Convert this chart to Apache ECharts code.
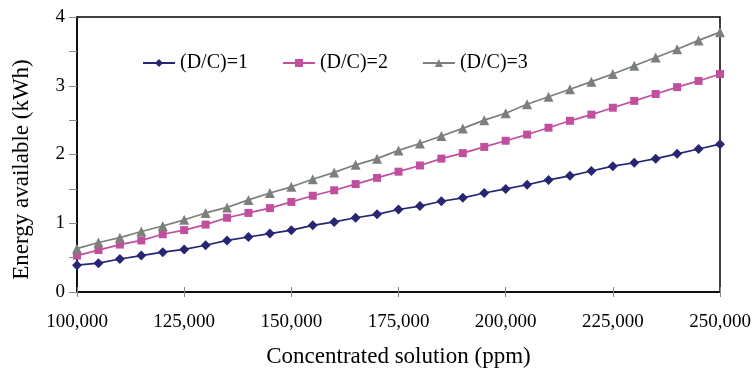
<!DOCTYPE html>
<html><head><meta charset="utf-8">
<script src="https://cdn.jsdelivr.net/npm/echarts@6/dist/echarts.min.js"></script>
<style>html,body{margin:0;padding:0;background:#fff}#c{width:753px;height:370px}</style>
</head><body><div id="c"></div>
<script>
const concentrations = [100000,105000,110000,115000,120000,125000,130000,135000,140000,145000,150000,155000,160000,165000,170000,175000,180000,185000,190000,195000,200000,205000,210000,215000,220000,225000,230000,235000,240000,245000,250000];
const dc1 = [0.39,0.42,0.48,0.53,0.58,0.62,0.68,0.75,0.80,0.85,0.90,0.97,1.02,1.08,1.13,1.20,1.25,1.32,1.37,1.44,1.50,1.56,1.63,1.69,1.76,1.83,1.88,1.94,2.01,2.08,2.15];
const dc2 = [0.53,0.61,0.69,0.75,0.84,0.90,0.98,1.08,1.15,1.22,1.31,1.40,1.48,1.57,1.66,1.75,1.84,1.94,2.02,2.11,2.20,2.29,2.39,2.49,2.58,2.68,2.78,2.88,2.98,3.07,3.17];
const dc3 = [0.63,0.72,0.79,0.88,0.96,1.05,1.15,1.23,1.34,1.44,1.53,1.64,1.74,1.85,1.94,2.06,2.16,2.27,2.38,2.50,2.60,2.73,2.84,2.95,3.06,3.17,3.29,3.41,3.53,3.66,3.78];
const seriesNames = ['(D/C)=1','(D/C)=2','(D/C)=3'];
const xName = 'Concentrated solution (ppm)';
const yName = 'Energy available (kWh)';

const font = 'Liberation Serif';
const pair = arr => concentrations.map((c,i)=>[c,arr[i]]);
const chart = echarts.init(document.getElementById('c'));
const common = {type:'line', showSymbol:true};
chart.setOption({
  animation:false,
  grid:{left:77,right:33,top:17,bottom:78,show:true,borderColor:'#000',borderWidth:1.5,
    containLabel:false,outerBoundsMode:'none'},
  legend:{top:48,left:137,itemGap:34,itemWidth:32,itemHeight:10,
    textStyle:{fontFamily:font,fontSize:20,color:'#000'},
    data:seriesNames},
  xAxis:[{type:'value',min:100000,max:250000,interval:25000,position:'bottom',
    name:xName,nameLocation:'middle',nameGap:53,
    nameTextStyle:{fontFamily:font,fontSize:23,color:'#000'},
    axisLine:{lineStyle:{color:'#000',width:1.5}},
    axisTick:{show:true,length:5,lineStyle:{color:'#888'}},
    axisLabel:{fontFamily:font,fontSize:19,color:'#000',margin:21,
      formatter:v=>v.toLocaleString('en-US')},
    splitLine:{show:false}},
   {type:'value',min:100000,max:250000,interval:25000,position:'top',offset:-275,
    axisLine:{show:false},axisTick:{show:true,inside:false,length:5,lineStyle:{color:'#888'}},
    axisLabel:{show:false},splitLine:{show:false}}],
  yAxis:{type:'value',min:0,max:4,interval:0.5,
    name:yName,nameLocation:'middle',nameGap:44,
    nameTextStyle:{fontFamily:font,fontSize:23,color:'#000',padding:[0,30,0,0]},
    axisLine:{show:true,lineStyle:{color:'#000',width:1.5}},
    axisTick:{show:true,length:8,lineStyle:{color:'#888'}},
    axisLabel:{fontFamily:font,fontSize:19,color:'#000',margin:12,
      formatter:v=>Number.isInteger(v)?String(v):''},
    splitLine:{show:false}},
  series:[
    Object.assign({},common,{name:seriesNames[0],data:pair(dc1),symbol:'diamond',symbolSize:10,
      itemStyle:{color:'#262673'},lineStyle:{width:1.7,color:'#262673'}}),
    Object.assign({},common,{name:seriesNames[1],data:pair(dc2),symbol:'rect',symbolSize:8,
      itemStyle:{color:'#C0509E'},lineStyle:{width:1.7,color:'#C0509E'}}),
    Object.assign({},common,{name:seriesNames[2],data:pair(dc3),symbol:'triangle',symbolSize:10,
      itemStyle:{color:'#7B807B'},lineStyle:{width:1.7,color:'#7B807B'}})
  ]
});
</script></body></html>
